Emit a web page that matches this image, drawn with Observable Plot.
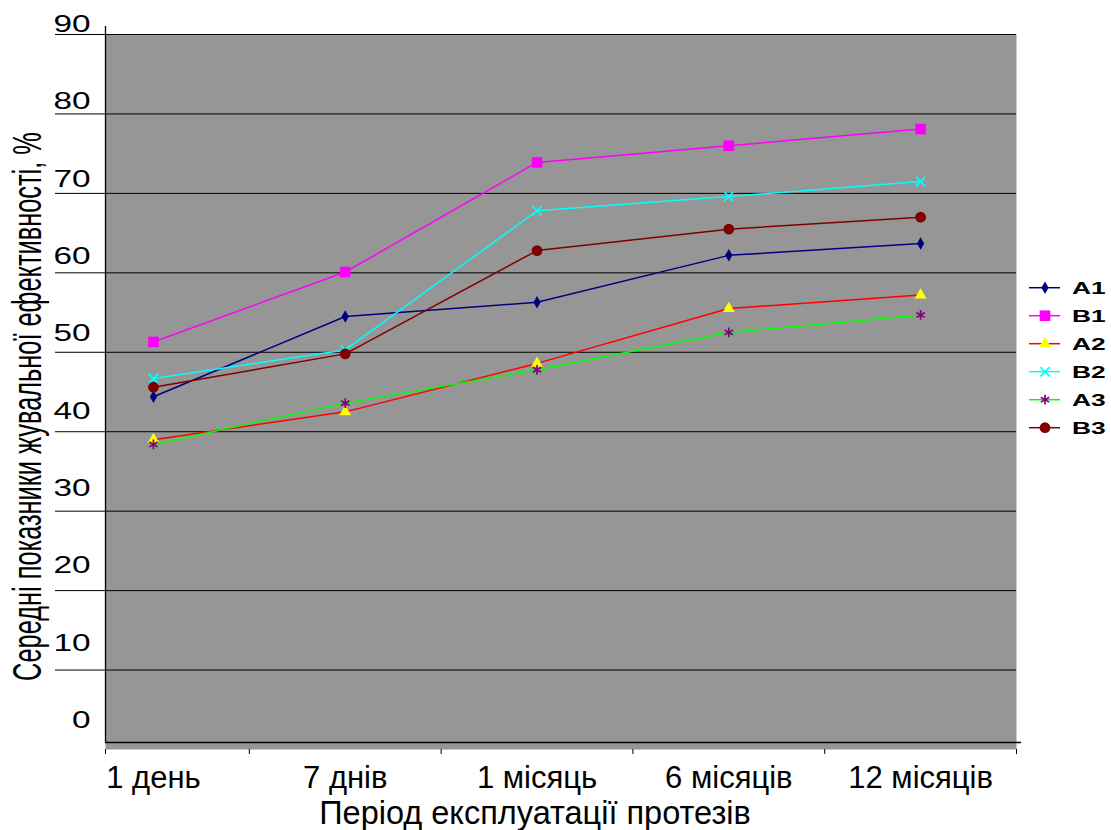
<!DOCTYPE html>
<html>
<head>
<meta charset="utf-8">
<script src="https://cdn.jsdelivr.net/npm/d3@7"></script>
<script src="https://cdn.jsdelivr.net/npm/@observablehq/plot@0.6"></script>
<style>
  body { margin: 0; background: #fff; font-family: "Liberation Sans", Arial, sans-serif; }
  #chart { position: relative; width: 1111px; height: 830px; }
</style>
</head>
<body>
<div id="chart"></div>
<script>
// Observation periods (x categories)
const periods = ["1 день", "7 днів", "1 місяць", "6 місяців", "12 місяців"];
// Series names, in drawing / legend order
const seriesNames = ["A1", "B1", "A2", "B2", "A3", "B3"];
// Mean chewing efficiency, %
const A1 = [44.4, 54.5, 56.3, 62.2, 63.7];
const B1 = [51.3, 60.1, 73.9, 76.0, 78.1];
const A2 = [39.0, 42.5, 48.6, 55.5, 57.2];
const B2 = [46.7, 50.3, 67.8, 69.6, 71.5];
const A3 = [38.4, 43.6, 47.8, 52.5, 54.7];
const B3 = [45.6, 49.8, 62.8, 65.5, 67.0];
// Axis ticks
const yTicks = [0, 10, 20, 30, 40, 50, 60, 70, 80, 90];
const gridTicks = [10, 20, 30, 40, 50, 60, 70, 80, 90];
const xTitle = "Період експлуатації протезів";
const yTitle = "Середні показники жувальної ефективності, %";

const values = {A1, B1, A2, B2, A3, B3};

// Line colour, marker shape and marker colours per series
const styles = {
  A1: {line: "#000080", symbol: "diamond",  fill: "#000080", stroke: "none",    r: 3.8},
  B1: {line: "#ff00ff", symbol: "square",   fill: "#ff00ff", stroke: "none",    r: 6.0},
  A2: {line: "#ff0000", symbol: "triangle", fill: "#ffff00", stroke: "none",    r: 4.4},
  B2: {line: "#00ffff", symbol: "times",    fill: "none",    stroke: "#00ffff", r: 4.3},
  A3: {line: "#00ff00", symbol: "asterisk", fill: "none",    stroke: "#800080", r: 4.6},
  B3: {line: "#800000", symbol: "circle",   fill: "#800000", stroke: "none",    r: 5.4}
};
const d3Symbols = {
  diamond: d3.symbolDiamond, square: d3.symbolSquare, triangle: d3.symbolTriangle,
  times: d3.symbolTimes, asterisk: d3.symbolAsterisk, circle: d3.symbolCircle
};

const rows = seriesNames.flatMap(name =>
  values[name].map((v, i) => ({series: name, period: i, value: v})));

// x is a continuous index scale: the plot area starts a quarter step before the first period
const xDomain = [-0.25, periods.length - 0.5];
const xBounds = [xDomain[0], ...d3.range(periods.length).map(i => i + 0.5)];

const seriesMarks = seriesNames.flatMap(name => {
  const s = styles[name];
  const data = rows.filter(d => d.series === name);
  return [
    Plot.line(data, {x: "period", y: "value", stroke: s.line, strokeWidth: 1.5}),
    Plot.dot(data, {x: "period", y: "value", symbol: s.symbol, r: s.r,
      fill: s.fill, stroke: s.stroke, strokeWidth: 1.7})
  ];
});

const marginLeft = 105;
const chart = Plot.plot({
  width: 1111,
  height: 830,
  marginLeft,
  marginRight: 95,
  marginTop: 34,
  marginBottom: 81,
  style: {fontFamily: "Liberation Sans, Arial, sans-serif", background: "#fff", color: "#000"},
  x: {domain: xDomain, axis: null},
  y: {domain: [0, 90], axis: null},
  marks: [
    Plot.frame({fill: "#969696", stroke: null}),
    Plot.gridY(gridTicks, {stroke: "#000", strokeOpacity: 1, strokeWidth: 1}),
    Plot.axisY({ticks: gridTicks, tickSize: 50, tickFormat: () => "", stroke: "#000", label: null}),
    Plot.axisY({ticks: yTicks, tickSize: 0, tickPadding: 15, fontSize: 23, label: null}),
    Plot.ruleX([xDomain[0]], {y1: 0, y2: 90, insetTop: -7, insetBottom: 8, stroke: "#000", strokeWidth: 1.3}),
    Plot.ruleY([0], {x1: xDomain[0], x2: xDomain[1], dy: -7, insetRight: -5, stroke: "#000", strokeWidth: 1.3}),
    Plot.axisX({ticks: xBounds, tickSize: 5, tickFormat: () => "", stroke: "#000", label: null}),
    Plot.axisX({ticks: d3.range(periods.length), tickSize: 0, tickPadding: 16,
      tickFormat: i => periods[i], fontSize: 31, label: null}),
    ...seriesMarks,
    Plot.text([xTitle], {text: d => d, frameAnchor: "bottom", lineAnchor: "bottom", dx: -26, dy: 74,
      fontSize: 32.5, fill: "#000"})
  ]
});

const host = document.getElementById("chart");
host.appendChild(chart);

// Horizontal stretch / condense of a text element around its own anchor, with an optional shift
function stretch(el, s, shiftY = 0) {
  const x = +(el.getAttribute("x") || 0);
  const t = el.getAttribute("transform") || "";
  el.setAttribute("transform",
    `${t} translate(${x},${shiftY}) scale(${s},1) translate(${-x},0)`);
}

// Tick labels sit above their grid lines, the gap narrowing towards the top
chart.querySelectorAll('g[aria-label="y-axis tick label"] text').forEach(el => {
  if (el.textContent === "") return;
  const v = +el.textContent;
  stretch(el, 1.45, -(29 - 0.214 * v));
});

// Rotated, condensed y-axis title in the left margin
const yRange = chart.scale("y").range;
const title = d3.select(chart).append("text")
  .attr("text-anchor", "middle")
  .attr("font-size", 41)
  .attr("fill", "#000")
  .attr("dy", "0.35em")
  .text(yTitle);
const titleLen = title.node().getComputedTextLength();
const titleScale = titleLen > 0 ? 549 / titleLen : 1;
title.attr("transform",
  `translate(${marginLeft - 78},${(yRange[0] + yRange[1]) / 2 + 15}) rotate(-90) scale(${titleScale},1)`);

// Legend on the right
const legend = d3.create("svg")
  .attr("width", 91).attr("height", 180)
  .style("position", "absolute").style("left", "1020px").style("top", "270px")
  .attr("font-family", "Liberation Sans, Arial, sans-serif");
seriesNames.forEach((name, i) => {
  const s = styles[name];
  const g = legend.append("g").attr("transform", `translate(0,${17.7 + i * 28})`);
  g.append("line").attr("x1", 9).attr("x2", 40).attr("stroke", s.line).attr("stroke-width", 1.5);
  g.append("path")
    .attr("d", d3.symbol(d3Symbols[s.symbol], Math.PI * s.r * s.r)())
    .attr("transform", "translate(25,0)")
    .attr("fill", s.fill).attr("stroke", s.stroke).attr("stroke-width", 1.7);
  const t = g.append("text").attr("x", 52).attr("y", 6)
    .attr("font-size", 16.5).attr("font-weight", "bold").attr("fill", "#000").text(name);
  stretch(t.node(), 1.6);
});
host.appendChild(legend.node());
</script>
</body>
</html>
